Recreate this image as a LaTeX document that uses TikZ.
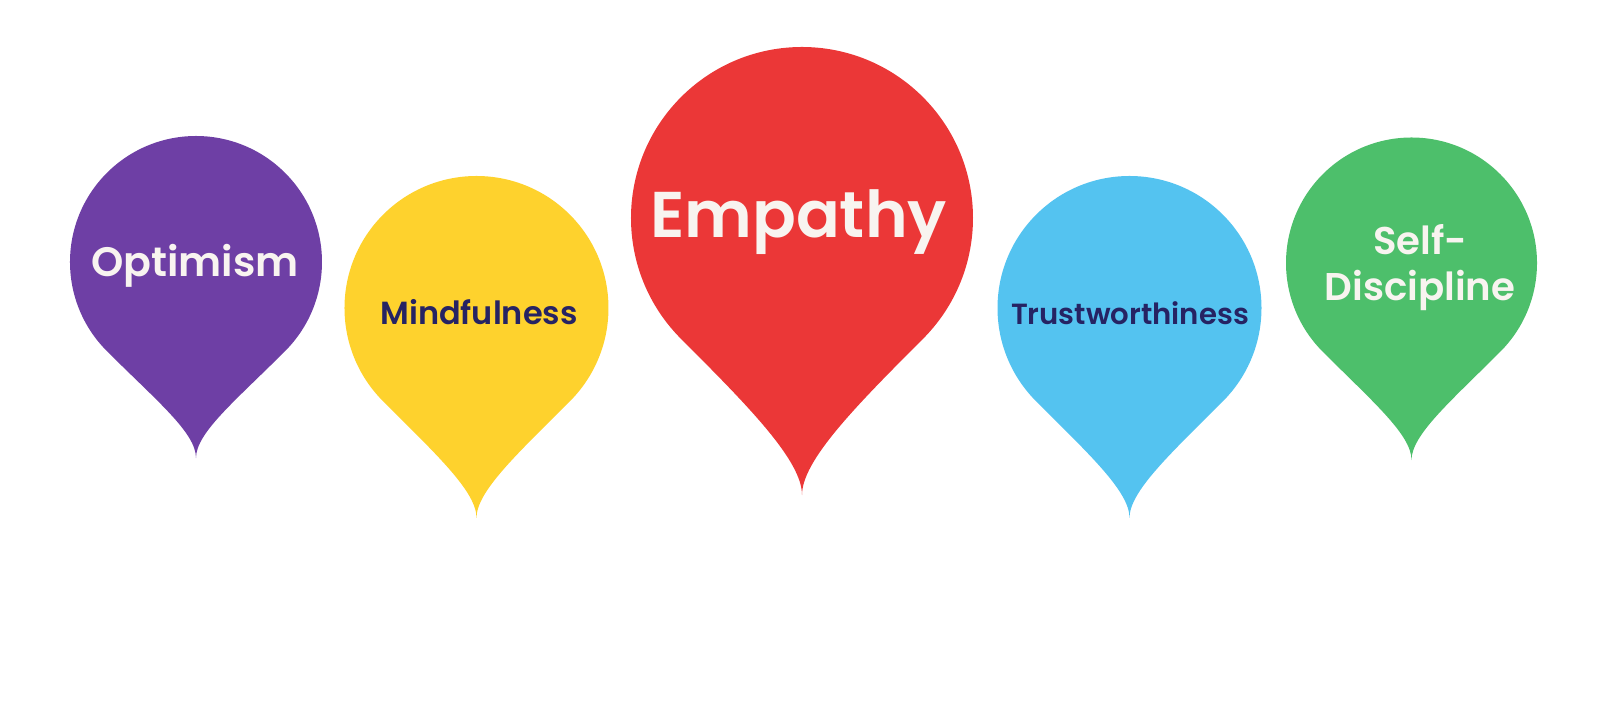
\documentclass[tikz,border=0pt]{standalone}
\usepackage{fontspec}
\usepackage{tikz}
\newfontfamily\popfont{Poppins}[BoldFont={Poppins SemiBold}]
\definecolor{optimismpurple}{RGB}{110,63,165}
\definecolor{mindfulyellow}{RGB}{254,210,45}
\definecolor{empathyred}{RGB}{235,55,55}
\definecolor{trustblue}{RGB}{84,195,240}
\definecolor{disciplinegreen}{RGB}{77,191,107}
\definecolor{labelnavy}{RGB}{38,35,99}
\definecolor{labelwhite}{RGB}{248,244,240}

% drop pin: centre x, centre y, radius, tip depth (in radii), colour
\newcommand{\droppin}[5]{%
  \begin{scope}[shift={(#1,#2)},scale=#3]
    \fill[#5] (0,-#4) .. controls (0,{-#4+0.2}) and (0.307,-1.107) .. (0.707,-0.707)
      arc[start angle=-45,end angle=225,radius=1]
      .. controls (-0.307,-1.107) and (0,{-#4+0.2}) .. (0,-#4) -- cycle;
  \end{scope}}

\begin{document}
\begin{tikzpicture}[
  pinlabel/.style={anchor=base,align=center},
  pinsize/.style={font=\popfont\bfseries\fontsize{#1}{#1}\selectfont}]
\useasboundingbox (0,0) rectangle (16.06,7.15);
% Optimism
\droppin{1.96}{4.53}{1.26}{1.556}{optimismpurple}
\node[pinlabel,pinsize=11.7,text=labelwhite] (optimism) at (1.95,4.39) {Optimism};
% Mindfulness
\droppin{4.765}{4.07}{1.32}{1.59}{mindfulyellow}
\node[pinlabel,pinsize=9.1,text=labelnavy] (mindfulness) at (4.79,3.91) {Mindfulness};
% Empathy
\droppin{8.02}{4.97}{1.71}{1.62}{empathyred}
\node[pinlabel,pinsize=18.4,text=labelwhite] (empathy) at (7.985,4.78) {Empathy};
% Trustworthiness
\droppin{11.295}{4.07}{1.32}{1.59}{trustblue}
\node[pinlabel,pinsize=8.3,text=labelnavy] (trust) at (11.30,3.91) {Trustworthiness};
% Self-Discipline
\droppin{14.115}{4.52}{1.255}{1.57}{disciplinegreen}
\node[pinlabel,pinsize=11.0,text=labelwhite] (discipline) at (14.20,4.15) {Self-\\[2pt]Discipline};
\end{tikzpicture}
\end{document}
